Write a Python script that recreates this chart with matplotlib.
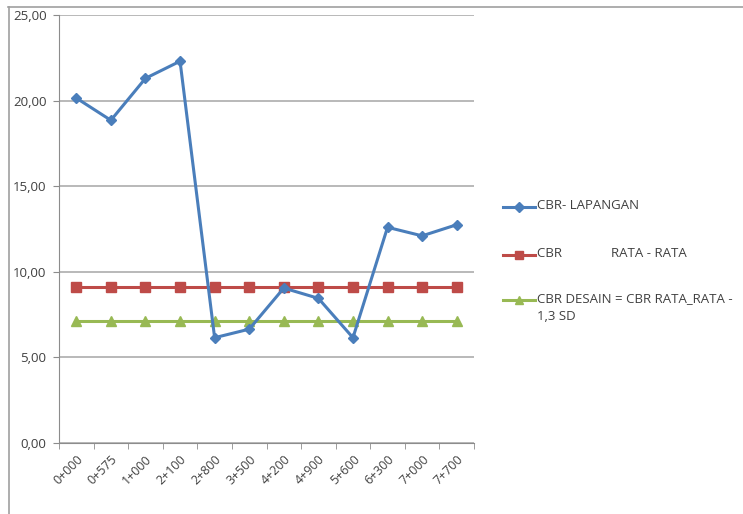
import matplotlib.pyplot as plt
from matplotlib.lines import Line2D
from matplotlib.ticker import FuncFormatter
import numpy as np

# data
stations = ['0+000', '0+575', '1+000', '2+100', '2+800', '3+500',
            '4+200', '4+900', '5+600', '6+300', '7+000', '7+700']
cbr_lapangan = [20.15, 18.85, 21.3, 22.3, 6.15, 6.65, 9.05, 8.45, 6.15, 12.6, 12.1, 12.75]
cbr_rata = [9.1] * 12
cbr_desain = [7.15] * 12

labels = ['CBR- LAPANGAN', 'CBR              RATA - RATA',
          'CBR DESAIN = CBR RATA_RATA -\n1,3 SD']
colors = ['#4a7ebb', '#be4b48', '#98b954']
markers = ['D', 's', '^']

W, H = 743, 514
plt.rcParams['font.family'] = ['Open Sans', 'DejaVu Sans']
fig = plt.figure(figsize=(W / 100, H / 100), dpi=100)

# chart border (only top and left show in the crop)
fig.add_artist(Line2D([8 / W, 1], [1 - 6.5 / H, 1 - 6.5 / H], color='#a0a0a0', lw=1.2))
fig.add_artist(Line2D([8.5 / W, 8.5 / W], [0, 1 - 6.5 / H], color='#a0a0a0', lw=1.2))

ax = fig.add_axes([59 / W, 1 - 443 / H, (474 - 59) / W, (443 - 15) / H])

x = np.arange(len(stations))
ax.plot(x, cbr_lapangan, color=colors[0], lw=2.2, marker='D', ms=5, zorder=5)
ax.plot(x, cbr_rata, color=colors[1], lw=2.2, marker='s', ms=7.5, zorder=4)
ax.plot(x, cbr_desain, color=colors[2], lw=2.2, marker='^', ms=7.5, zorder=3)

ax.set_xlim(-0.5, len(stations) - 0.5)
ax.set_ylim(0, 25)
ax.set_yticks(np.arange(0, 26, 5))
ax.yaxis.set_major_formatter(FuncFormatter(lambda v, p: f'{v:.2f}'.replace('.', ',')))
ax.grid(axis='y', color='#a6a6a6', lw=1.1)
ax.set_axisbelow(True)

ax.set_xticks(x)
ax.set_xticklabels(stations, rotation=45, ha='right', rotation_mode='anchor',
                   fontsize=9, color='#404040')
ax.set_xticks(np.arange(-0.5, len(stations)), minor=True)
ax.tick_params(axis='x', which='major', length=0, pad=7)
ax.tick_params(axis='x', which='minor', length=4, color='#8c8c8c')
ax.tick_params(axis='y', length=4, color='#8c8c8c', labelsize=9.5, labelcolor='#404040', pad=5)

for s in ['top', 'right']:
    ax.spines[s].set_visible(False)
for s in ['left', 'bottom']:
    ax.spines[s].set_color('#8c8c8c')

# legend beside the plot area, handle aligned with the first text line
leg_y = [207, 255, 300]
for lab, c, m, yy in zip(labels, colors, markers, leg_y):
    yf = 1 - yy / H
    fig.add_artist(Line2D([503 / W, 535 / W], [yf, yf], color=c, lw=2.2))
    fig.add_artist(Line2D([519 / W], [yf], color=c, marker=m, ms=5 if m == 'D' else 6))
    fig.text(537 / W, yf, lab, fontsize=9.5, color='#404040', va='top',
             linespacing=1.55, transform=fig.transFigure,
             position=(537 / W, yf + 8 / H))

fig.savefig('out.png', dpi=100)
